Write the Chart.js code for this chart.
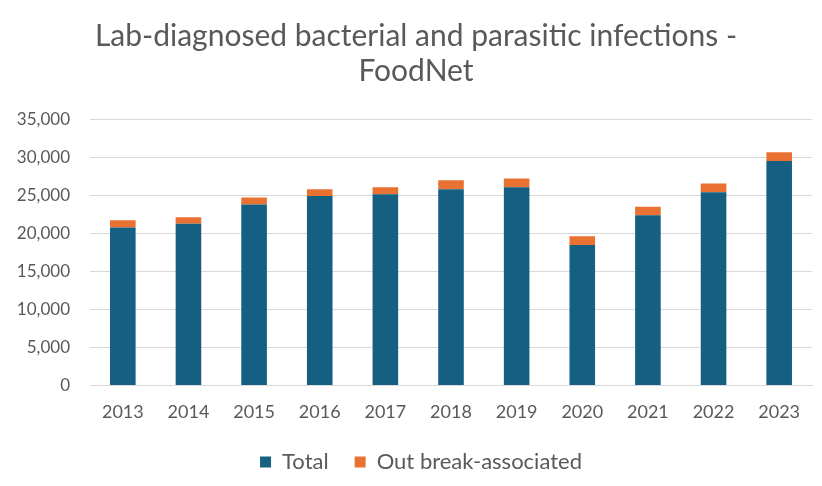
<!DOCTYPE html>
<html>
<head>
<meta charset="utf-8">
<script src="https://cdn.jsdelivr.net/npm/chart.js@4.4.1/dist/chart.umd.min.js"></script>
<style>
html,body{margin:0;padding:0;background:#fff;}
#wrap{width:822px;height:486px;position:relative;}
</style>
</head>
<body>
<div id="wrap"><canvas id="chart"></canvas></div>
<script>
const years=["2013","2014","2015","2016","2017","2018","2019","2020","2021","2022","2023"];
const totalValues=[20750,21260,23780,24900,25130,25800,26050,18460,22370,25400,29500];
const outbreakValues=[950,840,920,900,920,1170,1150,1140,1130,1140,1160];
const yTicks=[0,5000,10000,15000,20000,25000,30000,35000];

const textColor="#595959";
const fontFamily="Lato, 'Open Sans', sans-serif";

// legend padding also sets the gap between items, so trim its box and nudge it
const legendTrim={
    id:"legendTrim",
    beforeInit(chart){
        const legend=chart.legend;
        if(!legend) return;
        const fit=legend.fit;
        legend.fit=function(){
            fit.call(this);
            this.height-=7;
        };
    },
    afterLayout(chart){
        const legend=chart.legend;
        if(legend){
            legend.top-=6;legend.bottom-=6;
            legend.left+=8;legend.right+=8;
        }
        const title=chart.titleBlock;
        if(title){
            title.left+=3;title.right+=3;
        }
    }
};

const ctx=document.getElementById("chart").getContext("2d");
new Chart(ctx,{
    type:"bar",
    data:{
        labels:years,
        datasets:[{
            label:"Total",
            data:totalValues,
            backgroundColor:"#156082",
            categoryPercentage:1,
            barPercentage:0.39
        },{
            label:"Out break-associated",
            data:outbreakValues,
            backgroundColor:"#E97132",
            categoryPercentage:1,
            barPercentage:0.39
        }]
    },
    options:{
        responsive:true,
        maintainAspectRatio:false,
        animation:false,
        layout:{padding:{left:14,right:10,top:19,bottom:4}},
        plugins:{
            title:{
                display:true,
                text:["Lab-diagnosed bacterial and parasitic infections -","FoodNet"],
                color:textColor,
                font:{family:fontFamily,size:30,weight:"normal",lineHeight:1.17},
                padding:{top:0,bottom:30}
            },
            legend:{
                position:"bottom",
                labels:{
                    color:textColor,
                    font:{family:fontFamily,size:22},
                    boxWidth:11,
                    boxHeight:11,
                    padding:26
                }
            },
            tooltip:{enabled:false}
        },
        scales:{
            x:{
                stacked:true,
                grid:{display:false},
                border:{color:"#D9D9D9"},
                ticks:{color:textColor,font:{family:fontFamily,size:18},padding:8}
            },
            y:{
                stacked:true,
                min:0,
                max:35000,
                afterBuildTicks:axis=>{axis.ticks=yTicks.map(v=>({value:v}));},
                afterFit:axis=>{axis.width=76;},
                grid:{color:"#D9D9D9",lineWidth:1,drawTicks:false},
                border:{display:false},
                ticks:{
                    color:textColor,
                    font:{family:fontFamily,size:17},
                    padding:20,
                    callback:v=>v.toLocaleString("en-US")
                }
            }
        }
    },
    plugins:[legendTrim]
});
</script>
</body>
</html>
